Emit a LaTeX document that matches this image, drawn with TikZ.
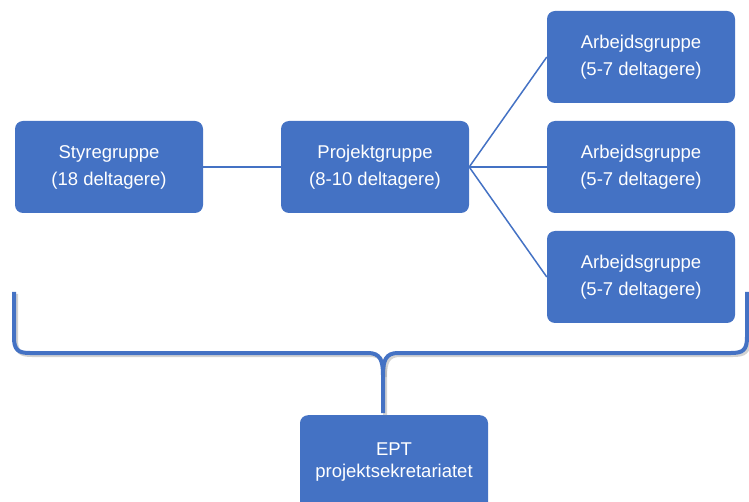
\documentclass[tikz,border=0pt]{standalone}
\usepackage{fontspec}
\setmainfont{Liberation Sans}
\definecolor{boxblue}{HTML}{4472C4}
\begin{document}
\begin{tikzpicture}[x=1pt,y=-1pt,
  gbox/.style={fill=boxblue,rounded corners=8pt,minimum width=188pt,minimum height=92pt,
    text=white,font=\fontsize{18.5}{27}\selectfont,align=center,inner sep=0pt},
  conn/.style={draw=boxblue,line width=1.5pt},
  bracel/.style={draw=boxblue,line width=4pt},
  braceshadow/.style={draw=black!35,line width=4pt,opacity=0.5}]
\useasboundingbox (0,0) rectangle (749,502);
\node[gbox] (sty) at (109,167) {Styregruppe\\(18 deltagere)};
\node[gbox] (proj) at (375,167) {Projektgruppe\\(8-10 deltagere)};
\node[gbox] (a1) at (641,57) {Arbejdsgruppe\\(5-7 deltagere)};
\node[gbox] (a2) at (641,167) {Arbejdsgruppe\\(5-7 deltagere)};
\node[gbox] (a3) at (641,277) {Arbejdsgruppe\\(5-7 deltagere)};
\begin{scope}
\clip (0,0) rectangle (749,502);
\node[gbox,minimum height=100pt,anchor=north] (ept) at (394,415) {};
\end{scope}
\node[text=white,font=\fontsize{18.5}{21.5}\selectfont,align=center,inner sep=0pt] (epttext) at (394,462) {EPT\\projektsekretariatet};
\draw[conn] (sty.east) -- (proj.east -| proj.west);
\draw[conn] (proj.east) -- (a1.west);
\draw[conn] (proj.east) -- (a2.west);
\draw[conn] (proj.east) -- (a3.west);
\coordinate (bl) at (14,292);
\coordinate (br) at (747,292);
\coordinate (bt) at (383,413);
\begin{scope}[shift={(2,2)}]
\draw[braceshadow] (14,292) -- (14,337) .. controls (14,350) and (18,353) .. (30,353) -- (368,353)
  .. controls (380,353) and (383,360) .. (383,375) -- (383,413);
\draw[braceshadow] (747,292) -- (747,337) .. controls (747,350) and (743,353) .. (731,353) -- (398,353)
  .. controls (386,353) and (383,360) .. (383,375);
\end{scope}
\draw[bracel] (bl) -- (14,337) .. controls (14,350) and (18,353) .. (30,353) -- (368,353)
  .. controls (380,353) and (383,360) .. (383,375) -- (bt);
\draw[bracel] (br) -- (747,337) .. controls (747,350) and (743,353) .. (731,353) -- (398,353)
  .. controls (386,353) and (383,360) .. (383,375);
\end{tikzpicture}
\end{document}
